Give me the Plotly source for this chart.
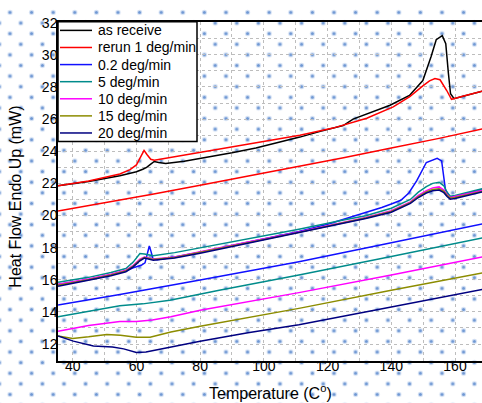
import base64
import plotly.graph_objects as go

W, H = 482, 403
FONT = "Liberation Sans, Arial, sans-serif"

# ---------------- data ----------------
names = ["as receive", "rerun 1 deg/min", "0.2 deg/min", "5 deg/min",
         "10 deg/min", "15 deg/min", "20 deg/min"]
colors = ["#000000", "#ff0000", "#1010ff", "#008b8b", "#ff00ff", "#8c8c00", "#000080"]

# as receive (single scan)
T_receive = [35.4, 45, 54.8, 58, 60, 62, 63.2, 64.5, 65.6, 67, 69.2, 75, 81.8, 90, 97.5,
             105, 111.3, 118, 124.9, 128, 133, 139.6, 145.7, 149.9, 152.5, 154.1, 156,
             157.1, 157.9, 158.6, 159.7, 164, 168.5]
HF_receive = [21.85, 22.12, 22.48, 22.62, 22.72, 22.88, 23.0, 23.2, 23.36, 23.3, 23.23,
              23.38, 23.6, 23.9, 24.2, 24.55, 24.88, 25.25, 25.6, 26.0, 26.35, 26.86,
              27.47, 28.4, 29.9, 30.94, 31.19, 30.7, 28.9, 27.58, 27.27, 27.5, 27.73]

# rerun 1 deg/min: first scan and second scan
T_rerun_a = [35.4, 45, 54.8, 58, 60, 61.5, 62.4, 63.3, 64.5, 65.6, 75, 90, 100, 111.3,
             121.7, 132.3, 140.6, 145.8, 150, 152, 153.7, 155.3, 157.4, 158.9, 163, 168.5]
HF_rerun_a = [21.85, 22.15, 22.58, 22.85, 23.15, 23.7, 24.05, 23.8, 23.5, 23.44, 23.75,
              24.27, 24.6, 24.99, 25.44, 26.05, 26.76, 27.4, 28.08, 28.38, 28.53, 28.45,
              27.78, 27.23, 27.45, 27.73]
T_rerun_b = [35.4, 50, 65, 80, 95, 111, 125, 140, 155, 168.5]
HF_rerun_b = [20.28, 20.78, 21.32, 21.88, 22.45, 23.05, 23.6, 24.2, 24.8, 25.39]

# 0.2 deg/min
T_02_a = [35.4, 45, 52, 56.7, 59, 61.5, 62.7, 63.4, 64.05, 64.6, 65.2, 66.5, 72, 80, 95,
          111, 120, 125, 132, 137, 140, 143, 145.5, 148, 151, 152.7, 154.4, 155.8, 156.5,
          157, 158.4, 160, 168.5]
HF_02_a = [15.7, 16.02, 16.32, 16.55, 16.75, 16.9, 17.05, 17.6, 18.1, 17.75, 17.3, 17.25,
           17.42, 17.72, 18.35, 19.0, 19.45, 19.75, 20.2, 20.5, 20.72, 20.95, 21.4, 22.17,
           23.3, 23.44, 23.56, 23.4, 22.4, 21.6, 21.16, 21.2, 21.6]
T_02_b = [35.4, 54.8, 80, 111, 140, 168.5]
HF_02_b = [14.43, 15.08, 15.98, 17.12, 18.3, 19.48]

# common temperature grid of the first scans at 5/10/15/20 deg/min
T_scan_a = [35.4, 45, 52, 56.7, 59, 61.1, 62.5, 65.3, 72, 80, 95, 111, 125, 132, 140, 143,
            146, 148.5, 151, 153, 155, 156.5, 157.5, 158.5, 160, 168.5]
HF_5_a = [15.85, 16.15, 16.45, 16.7, 17.1, 17.63, 17.6, 17.49, 17.69, 17.98, 18.55, 19.15,
          19.72, 19.98, 20.45, 20.7, 21.0, 21.45, 21.8, 22.0, 22.07, 21.85, 21.45, 21.2,
          21.25, 21.66]
HF_10_a = [15.72, 16.05, 16.35, 16.6, 16.9, 17.28, 17.42, 17.3, 17.42, 17.75, 18.35, 18.98,
           19.58, 19.88, 20.3, 20.55, 20.85, 21.25, 21.55, 21.72, 21.78, 21.58, 21.3, 21.12,
           21.18, 21.55]
HF_15_a = [15.66, 16.0, 16.3, 16.55, 16.85, 17.22, 17.38, 17.26, 17.38, 17.7, 18.3, 18.95,
           19.55, 19.85, 20.25, 20.5, 20.8, 21.18, 21.47, 21.62, 21.66, 21.5, 21.25, 21.08,
           21.12, 21.5]
HF_20_a = [15.6, 15.95, 16.25, 16.5, 16.8, 17.18, 17.35, 17.22, 17.35, 17.65, 18.28, 18.93,
           19.52, 19.82, 20.2, 20.45, 20.75, 21.12, 21.4, 21.54, 21.58, 21.42, 21.18, 21.02,
           21.06, 21.46]

# second scans
T_5_b = [35.4, 45, 54.8, 62, 70.5, 86, 111, 140, 168.5]
HF_5_b = [13.7, 14.05, 14.38, 14.5, 14.73, 15.35, 16.3, 17.45, 18.6]
T_10_b = [35.4, 45, 54.8, 60, 65, 70.8, 80, 111, 140, 168.5]
HF_10_b = [12.8, 13.15, 13.4, 13.4, 13.5, 13.7, 14.1, 15.2, 16.3, 17.42]
T_15_b = [35.4, 40, 45, 50.7, 55, 60, 64.3, 70.8, 80, 111, 140, 168.5]
HF_15_b = [12.5, 12.35, 12.45, 12.59, 12.55, 12.43, 12.43, 12.75, 13.1, 14.22, 15.35, 16.42]
T_20_b = [35.4, 40.2, 46.5, 52.5, 56, 60, 63, 70, 80, 95, 111, 140, 168.5]
HF_20_b = [12.5, 12.18, 11.88, 11.82, 11.7, 11.47, 11.5, 11.78, 12.18, 12.7, 13.2, 14.3, 15.4]

x_ticks = [40, 60, 80, 100, 120, 140, 160]
y_ticks = [12, 14, 16, 18, 20, 22, 24, 26, 28, 30, 32]

series = [
    [(T_receive, HF_receive)],
    [(T_rerun_a, HF_rerun_a), (T_rerun_b, HF_rerun_b)],
    [(T_02_a, HF_02_a), (T_02_b, HF_02_b)],
    [(T_scan_a, HF_5_a), (T_5_b, HF_5_b)],
    [(T_scan_a, HF_10_a), (T_10_b, HF_10_b)],
    [(T_scan_a, HF_15_a), (T_15_b, HF_15_b)],
    [(T_scan_a, HF_20_a), (T_20_b, HF_20_b)],
]

# ---------------- layout helpers (pixel -> paper) ----------------
def px(x):
    return x / W

def py(y):
    return 1 - y / H

PLOT_L, PLOT_R, PLOT_T, PLOT_B = 58, 482, 15, 360

fig = go.Figure()
for name, color, segs in zip(names, colors, series):
    xs, ys = [], []
    for k, (t, v) in enumerate(segs):
        if k:
            xs.append(None)
            ys.append(None)
        xs += list(t)
        ys += list(v)
    fig.add_trace(go.Scatter(x=xs, y=ys, mode="lines", name=name,
                             line=dict(color=color, width=1.5),
                             connectgaps=False, showlegend=False))

# dotted background texture as an SVG image
svg = (
    '<svg xmlns="http://www.w3.org/2000/svg" width="482" height="403" viewBox="0 0 482 403">'
    '<defs><pattern id="p" x="4.6" y="0.1" width="21.6" height="21.6" patternUnits="userSpaceOnUse">'
    '<circle cx="5.4" cy="5.4" r="2.6" fill="#d3e0f3"/><circle cx="5.4" cy="5.4" r="1.5" fill="#6e97d3"/>'
    '<circle cx="16.2" cy="16.2" r="2.6" fill="#d3e0f3"/><circle cx="16.2" cy="16.2" r="1.5" fill="#6e97d3"/>'
    '</pattern></defs><rect width="482" height="403" fill="url(#p)"/></svg>'
)
src = "data:image/svg+xml;base64," + base64.b64encode(svg.encode()).decode()

shapes = [dict(type="rect", xref="paper", yref="paper",
               x0=px(58), x1=px(197), y0=py(137), y1=py(15),
               fillcolor="white", line=dict(color="black", width=1.5), layer="above")]
annotations = []
for i, (name, color) in enumerate(zip(names, colors)):
    yc = 23.8 + 17.4 * i
    shapes.append(dict(type="line", xref="paper", yref="paper",
                       x0=px(60), x1=px(92), y0=py(yc), y1=py(yc),
                       line=dict(color=color, width=1.5), layer="above"))
    annotations.append(dict(text=name, xref="paper", yref="paper", x=px(96), y=py(yc),
                            xanchor="left", yanchor="middle", showarrow=False,
                            font=dict(family=FONT, size=14, color="black")))

annotations.append(dict(text="Temperature (C<sup>o</sup>)", xref="paper", yref="paper",
                        x=px(270.5), y=py(392), xanchor="center", yanchor="middle",
                        showarrow=False, font=dict(family=FONT, size=16, color="black")))
annotations.append(dict(text="Heat Flow Endo Up (mW)", xref="paper", yref="paper",
                        x=px(15.5), y=py(193.5), xanchor="center", yanchor="middle",
                        textangle=-90, showarrow=False,
                        font=dict(family=FONT, size=16, color="black")))

grid = dict(gridcolor="#bdbdbd", griddash="dot", gridwidth=1)
fig.update_layout(
    width=W, height=H,
    margin=dict(l=0, r=0, t=0, b=0),
    paper_bgcolor="white", plot_bgcolor="rgba(0,0,0,0)",
    font=dict(family=FONT, size=14, color="black"),
    showlegend=False,
    images=[dict(source=src, xref="paper", yref="paper", x=0, y=1, sizex=1, sizey=1,
                 xanchor="left", yanchor="top", sizing="stretch", layer="below")],
    shapes=shapes,
    annotations=annotations,
    xaxis=dict(domain=[px(PLOT_L), px(PLOT_R)], range=[35.39, 168.47],
               tickvals=x_ticks, ticks="", showline=True, linecolor="black", linewidth=1.5,
               mirror=True, zeroline=False, showgrid=True, ticklabelstandoff=-8,
               minor=dict(dtick=10, tick0=0, showgrid=True, **grid), **grid,
               tickfont=dict(size=14)),
    yaxis=dict(domain=[py(PLOT_B), py(PLOT_T)], range=[10.96, 32.06],
               tickvals=y_ticks, ticks="", showline=True, linecolor="black", linewidth=1.5,
               mirror=False, zeroline=False, showgrid=True, ticklabelstandoff=-4,
               minor=dict(dtick=1, tick0=0, showgrid=True, **grid), **grid,
               tickfont=dict(size=14)),
)

fig.write_html("out.html")
